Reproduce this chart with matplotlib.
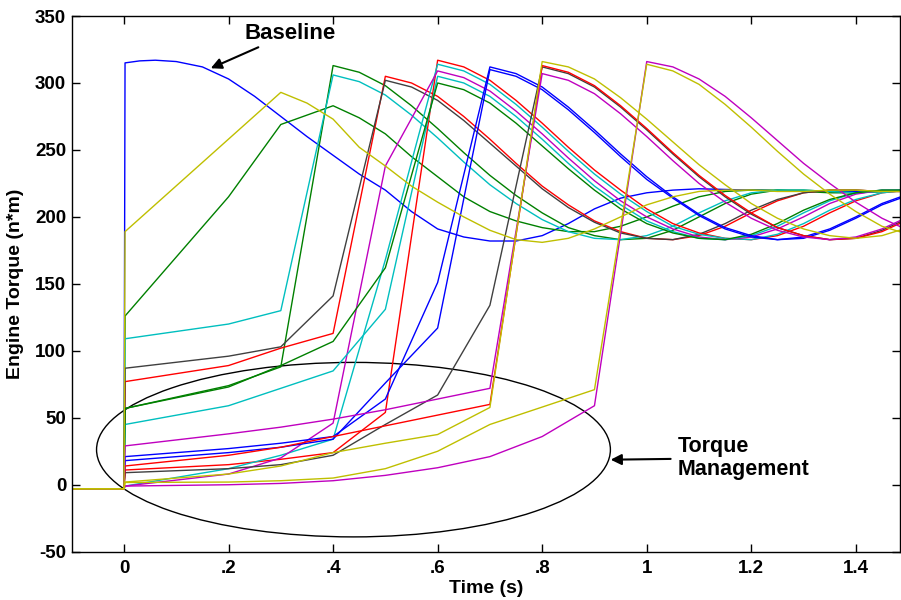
import matplotlib.pyplot as plt
from matplotlib.patches import Ellipse

plt.rcParams['font.family'] = ['Liberation Sans', 'DejaVu Sans']
plt.rcParams['font.weight'] = 'bold'
plt.rcParams['axes.unicode_minus'] = False

# MATLAB default line colours
C_B, C_G, C_R = '#0000ff', '#008000', '#ff0000'
C_C, C_M, C_Y, C_K = '#00bfbf', '#bf00bf', '#bfbf00', '#404040'

# time grid (s) used after each torque jump
t_grid = [0.30, 0.35, 0.40, 0.45, 0.50, 0.55, 0.60, 0.65, 0.70, 0.75, 0.80, 0.85,
          0.90, 0.95, 1.00, 1.05, 1.10, 1.15, 1.20, 1.25, 1.30, 1.35, 1.40, 1.45, 1.50]

# baseline (no torque management)
base_t = [-0.1, 0.0, 0.002, 0.03, 0.06, 0.1, 0.15, 0.2, 0.25, 0.3, 0.35, 0.4, 0.45, 0.5,
          0.55, 0.6, 0.65, 0.7, 0.75, 0.8, 0.85, 0.9, 0.95, 1.0, 1.05, 1.1, 1.2, 1.3, 1.4, 1.5]
base_y = [-3, -3, 315, 316.5, 317, 316, 312, 303, 290, 275, 260, 246, 232, 220,
          204, 191, 185, 182, 182, 186, 195, 206, 214, 218, 220, 221, 220, 219, 219, 220]

# torque managed runs: points before the jump, then values on t_grid from the jump on
yel0_pre_t = [-0.1, 0.0, 0.002]
yel0_pre_y = [-3, -3, 189]
yel0_post = [293, 285, 273, 252, 238, 223, 211, 200, 190, 183, 181, 184, 191, 200, 209,
             215, 219, 220, 220, 219, 219, 220, 220, 219, 219]

grn0_pre_t = [-0.1, 0.0, 0.002, 0.2, 0.3]
grn0_pre_y = [-3, -3, 126, 215, 269]
grn0_post = [283, 274, 262, 245, 230, 215, 204, 197, 192, 189, 189, 193, 200, 208, 215,
             219, 220, 220, 219, 218, 218, 219, 220]

grn4_pre_t = [-0.1, 0.0, 0.002, 0.2, 0.3]
grn4_pre_y = [-3, -3, 57, 74, 88]
grn4_post = [313, 308, 298, 283, 266, 248, 231, 216, 203, 192, 186, 183, 184, 190, 200,
             210, 217, 220, 220, 219, 218, 219, 220]

cyn4_pre_t = [-0.1, 0.0, 0.002, 0.2, 0.3]
cyn4_pre_y = [-3, -3, 109, 120, 130]
cyn4_post = [306, 301, 291, 276, 259, 241, 224, 210, 198, 189, 184, 183, 186, 193, 203,
             212, 218, 220, 220, 219, 218, 219, 220]

red5_pre_t = [-0.1, 0.0, 0.002, 0.2, 0.3, 0.4]
red5_pre_y = [-3, -3, 77, 89, 102, 113]
red5_post = [305, 300, 290, 275, 258, 240, 223, 209, 197, 189, 184, 183, 186, 193, 203,
             212, 218, 220, 220, 219, 219]

blk5_pre_t = [-0.1, 0.0, 0.002, 0.2, 0.3, 0.4]
blk5_pre_y = [-3, -3, 87, 96, 103, 141]
blk5_post = [302, 297, 287, 272, 255, 238, 221, 207, 196, 188, 184, 183, 187, 195, 205,
             213, 218, 220, 220, 219, 219]

red6_pre_t = [-0.1, 0.0, 0.002, 0.2, 0.3, 0.4, 0.5]
red6_pre_y = [-3, -3, 11, 15, 19, 24, 54]
red6_post = [317, 312, 302, 287, 270, 252, 235, 220, 206, 195, 188, 184, 183, 186, 193,
             203, 212, 218, 220]

cyn6_pre_t = [-0.1, 0.0, 0.002, 0.2, 0.3, 0.4, 0.5]
cyn6_pre_y = [-3, -3, -1, 12, 22, 34, 168]
cyn6_post = [314, 309, 299, 284, 267, 249, 232, 217, 204, 193, 187, 184, 183, 187, 195,
             205, 213, 218, 220]

mag6_pre_t = [-0.1, 0.0, 0.002, 0.2, 0.3, 0.4, 0.5]
mag6_pre_y = [-3, -3, -1, 8, 20, 46, 238]
mag6_post = [309, 304, 294, 279, 262, 244, 227, 212, 200, 191, 185, 183, 185, 191, 200,
             210, 217, 220, 220]

cyn6b_pre_t = [-0.1, 0.0, 0.002, 0.2, 0.3, 0.4, 0.5]
cyn6b_pre_y = [-3, -3, 45, 59, 72, 85, 131]
cyn6b_post = [305, 300, 290, 275, 258, 240, 223, 209, 197, 189, 184, 183, 186, 193, 203,
              212, 218, 220, 220]

grn6_pre_t = [-0.1, 0.0, 0.002, 0.2, 0.3, 0.4, 0.5]
grn6_pre_y = [-3, -3, 57, 73, 89, 107, 162]
grn6_post = [300, 295, 285, 270, 253, 236, 220, 206, 195, 188, 184, 183, 187, 195, 205,
             213, 218, 220, 220]

blu7a_pre_t = [-0.1, 0.0, 0.002, 0.2, 0.3, 0.4, 0.5, 0.6]
blu7a_pre_y = [-3, -3, 21, 27, 31, 36, 64, 151]
blu7a_post = [312, 307, 297, 282, 265, 247, 230, 215, 202, 192, 186, 183, 184, 190, 199,
              209, 216]

blu7b_pre_t = [-0.1, 0.0, 0.002, 0.2, 0.3, 0.4, 0.5, 0.6]
blu7b_pre_y = [-3, -3, 18, 24, 28, 34, 76, 117]
blu7b_post = [310, 305, 295, 280, 263, 245, 228, 214, 201, 191, 185, 183, 185, 191, 200,
              210, 217]

blk8_pre_t = [-0.1, 0.0, 0.002, 0.2, 0.3, 0.4, 0.5, 0.6, 0.7]
blk8_pre_y = [-3, -3, 9, 12, 15, 22, 45, 67, 134]
blk8_post = [312, 307, 297, 282, 265, 247, 230, 215, 202, 192, 186, 183, 184, 190, 199]

red8_pre_t = [-0.1, 0.0, 0.002, 0.2, 0.3, 0.4, 0.5, 0.6, 0.7]
red8_pre_y = [-3, -3, 14, 22, 28, 36, 44, 52, 60]
red8_post = [313, 308, 298, 283, 266, 248, 231, 216, 203, 192, 186, 183, 184, 189, 198]

mag8_pre_t = [-0.1, 0.0, 0.002, 0.2, 0.3, 0.4, 0.5, 0.6, 0.7]
mag8_pre_y = [-3, -3, 29, 38, 43, 49, 56, 64, 72]
mag8_post = [307, 302, 292, 277, 260, 242, 225, 211, 199, 190, 185, 183, 185, 191, 200]

yel8_pre_t = [-0.1, 0.0, 0.002, 0.2, 0.3, 0.4, 0.5, 0.6, 0.7]
yel8_pre_y = [-3, -3, 2, 8, 14, 24, 31, 37.5, 57.7]
yel8_post = [316, 312, 303, 289, 273, 256, 239, 224, 210, 199, 191, 186, 184, 186, 192]

mag10_pre_t = [-0.1, 0.0, 0.002, 0.2, 0.3, 0.4, 0.5, 0.6, 0.7, 0.8, 0.9]
mag10_pre_y = [-3, -3, -1, 0, 1, 3, 7, 12.7, 21, 36, 59]
mag10_post = [316, 312, 303, 290, 274, 257, 240, 225, 211, 199, 190]

yel10_pre_t = [-0.1, 0.0, 0.002, 0.2, 0.3, 0.4, 0.5, 0.6, 0.7, 0.8, 0.9]
yel10_pre_y = [-3, -3, 1.7, 2, 3, 5, 12, 25, 45, 58, 71]
yel10_post = [314, 309, 299, 284, 267, 249, 232, 217, 204, 193, 187]


def run(pre_t, pre_y, post):
    t = pre_t + t_grid[len(t_grid) - len(post):]
    return t, pre_y + post


fig = plt.figure(figsize=(9.01, 6.0), dpi=100)
ax = fig.add_axes([0.0796, 0.0805, 0.919, 0.8928])

ax.plot(base_t, base_y, color=C_B, lw=1)
runs = [
    (grn0_pre_t, grn0_pre_y, grn0_post, C_G),
    (grn4_pre_t, grn4_pre_y, grn4_post, C_G),
    (cyn4_pre_t, cyn4_pre_y, cyn4_post, C_C),
    (red5_pre_t, red5_pre_y, red5_post, C_R),
    (blk5_pre_t, blk5_pre_y, blk5_post, C_K),
    (red6_pre_t, red6_pre_y, red6_post, C_R),
    (cyn6_pre_t, cyn6_pre_y, cyn6_post, C_C),
    (mag6_pre_t, mag6_pre_y, mag6_post, C_M),
    (cyn6b_pre_t, cyn6b_pre_y, cyn6b_post, C_C),
    (grn6_pre_t, grn6_pre_y, grn6_post, C_G),
    (blu7a_pre_t, blu7a_pre_y, blu7a_post, C_B),
    (blu7b_pre_t, blu7b_pre_y, blu7b_post, C_B),
    (blk8_pre_t, blk8_pre_y, blk8_post, C_K),
    (red8_pre_t, red8_pre_y, red8_post, C_R),
    (mag8_pre_t, mag8_pre_y, mag8_post, C_M),
    (mag10_pre_t, mag10_pre_y, mag10_post, C_M),
    (yel8_pre_t, yel8_pre_y, yel8_post, C_Y),
    (yel10_pre_t, yel10_pre_y, yel10_post, C_Y),
    (yel0_pre_t, yel0_pre_y, yel0_post, C_Y),
]
for pre_t, pre_y, post, col in runs:
    t, y = run(pre_t, pre_y, post)
    ax.plot(t, y, color=col, lw=1)

# circled group of managed runs
ax.add_patch(Ellipse((0.439, 26.2), 0.983, 130.3, fill=False, edgecolor='k', lw=1))

ax.annotate('Baseline', xy=(0.166, 311), xytext=(0.317, 337), ha='center', va='center',
            fontsize=16, fontweight='bold',
            arrowprops=dict(arrowstyle='-|>', color='k', lw=1.5, mutation_scale=16,
                            shrinkA=1, shrinkB=0))
ax.annotate('Torque\nManagement', xy=(0.931, 18.7), xytext=(1.059, 20), ha='left', va='center',
            fontsize=15.5, fontweight='bold', linespacing=1.1,
            arrowprops=dict(arrowstyle='-|>', color='k', lw=1.5, mutation_scale=16,
                            shrinkA=3, shrinkB=0))

ax.set_xlim(-0.1, 1.484)
ax.set_ylim(-50, 350)
ax.set_xticks([0, 0.2, 0.4, 0.6, 0.8, 1.0, 1.2, 1.4])
ax.set_xticklabels(['0', '.2', '.4', '.6', '.8', '1', '1.2', '1.4'])
ax.set_yticks([-50, 0, 50, 100, 150, 200, 250, 300, 350])
ax.tick_params(direction='in', top=True, right=True, length=6, width=1,
               labelsize=13.5, pad=6)
ax.tick_params(axis='y', pad=4)
for lab in ax.get_xticklabels() + ax.get_yticklabels():
    lab.set_fontweight('bold')
for sp in ax.spines.values():
    sp.set_linewidth(1)

ax.set_xlabel('Time (s)', fontsize=14, fontweight='bold', labelpad=2)
ax.set_ylabel('Engine Torque (n*m)', fontsize=14, fontweight='bold', labelpad=8)

fig.savefig('out.png', dpi=100)
